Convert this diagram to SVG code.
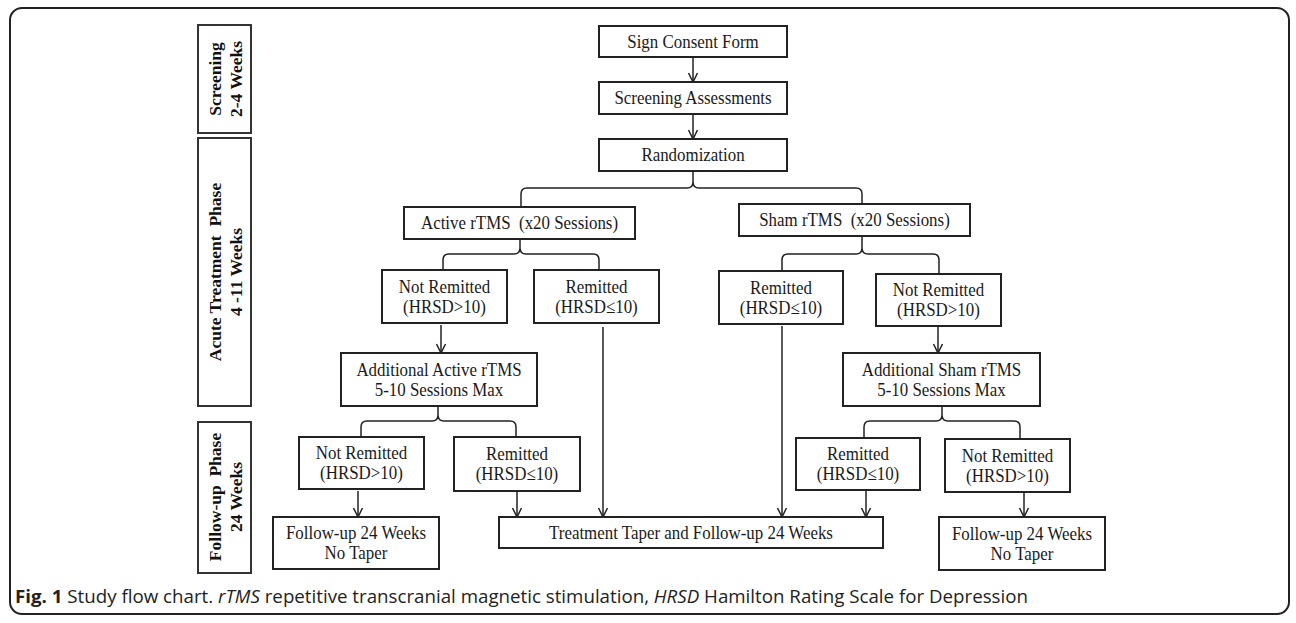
<svg xmlns="http://www.w3.org/2000/svg" width="1296" height="623" viewBox="0 0 1296 623">
<style>
.frame{fill:#fff;stroke:#222;stroke-width:2}
.box{fill:#fff;stroke:#222;stroke-width:2}
.pbox{fill:#fff;stroke:#333;stroke-width:2}
.con{fill:none;stroke:#222;stroke-width:1.5}
.t{font-family:"Liberation Serif","Times New Roman",serif;font-size:19px;fill:#1a1a1a;text-anchor:middle;transform-box:fill-box;transform-origin:center;transform:scaleX(0.89)}
.p{font-family:"Liberation Serif","Times New Roman",serif;font-size:17.5px;font-weight:bold;fill:#111;text-anchor:middle}
.cap{font-family:"Open Sans","Noto Sans",sans-serif;font-size:17.5px;fill:#222}
</style>
<defs>
<marker id="arr" markerUnits="userSpaceOnUse" markerWidth="14" markerHeight="14" viewBox="-12 -7 14 14" refX="0" refY="0" orient="auto" overflow="visible">
<path d="M-9,-4.5 L0,0 L-9,4.5" fill="none" stroke="#222" stroke-width="1.5"/>
</marker>
</defs>
<rect class="frame" x="10" y="8" width="1279" height="606" rx="12" ry="12"/>

<g id="phase-screening"><rect class="pbox" x="198" y="25" width="53" height="108"/>
<text class="p" transform="translate(221,79) rotate(-90)">Screening</text>
<text class="p" transform="translate(242,79) rotate(-90)">2-4 Weeks</text></g>
<g id="phase-acute"><rect class="pbox" x="198" y="138" width="53" height="268"/>
<text class="p" transform="translate(221,272) rotate(-90)" xml:space="preserve">Acute Treatment  Phase</text>
<text class="p" transform="translate(242,272) rotate(-90)">4 -11 Weeks</text></g>
<g id="phase-followup"><rect class="pbox" x="198" y="422" width="53" height="151"/>
<text class="p" transform="translate(221,497) rotate(-90)" xml:space="preserve">Follow-up  Phase</text>
<text class="p" transform="translate(242,497) rotate(-90)">24 Weeks</text></g>

<g id="connectors">
<line class="con" x1="693" y1="57" x2="693" y2="82" marker-end="url(#arr)"/>
<line class="con" x1="693" y1="114" x2="693" y2="139" marker-end="url(#arr)"/>
<path class="con" d="M521,207 L521,194 Q521,188 527,188 L687,188 Q693,188 693,182 L693,171 M862,204 L862,194 Q862,188 856,188 L699,188 Q693,188 693,182"/>
<path class="con" d="M443,270 L443,260 Q443,254 449,254 L514,254 Q520,254 520,248 L520,239 M599,270 L599,260 Q599,254 593,254 L526,254 Q520,254 520,248"/>
<path class="con" d="M782,271 L782,260 Q782,254 788,254 L856,254 Q862,254 862,248 L862,236 M939,274 L939,260 Q939,254 933,254 L868,254 Q862,254 862,248"/>
<line class="con" x1="441" y1="325" x2="441" y2="353" marker-end="url(#arr)"/>
<line class="con" x1="938" y1="327" x2="938" y2="353" marker-end="url(#arr)"/>
<path class="con" d="M361,437 L361,427 Q361,421 367,421 L432,421 Q438,421 438,415 L438,406 M516,437 L516,427 Q516,421 510,421 L444,421 Q438,421 438,415"/>
<path class="con" d="M864,438 L864,427 Q864,421 870,421 L936,421 Q942,421 942,415 L942,406 M1020,439 L1020,427 Q1020,421 1014,421 L948,421 Q942,421 942,415"/>
<line class="con" x1="603" y1="327" x2="603" y2="517" marker-end="url(#arr)"/>
<line class="con" x1="782" y1="326" x2="782" y2="517" marker-end="url(#arr)"/>
<line class="con" x1="358" y1="491" x2="358" y2="517" marker-end="url(#arr)"/>
<line class="con" x1="517" y1="492" x2="517" y2="517" marker-end="url(#arr)"/>
<line class="con" x1="866" y1="491" x2="866" y2="517" marker-end="url(#arr)"/>
<line class="con" x1="1024" y1="493" x2="1024" y2="517" marker-end="url(#arr)"/>
</g>

<g id="sign-consent"><rect class="box" x="599" y="26" width="188" height="31"/><text class="t" x="693" y="48">Sign Consent Form</text></g>
<g id="screening-assessments"><rect class="box" x="599" y="82" width="188" height="32"/><text class="t" x="693" y="104.5">Screening Assessments</text></g>
<g id="randomization"><rect class="box" x="599" y="139" width="188" height="32"/><text class="t" x="693" y="161.5">Randomization</text></g>
<g id="active-rtms"><rect class="box" x="404" y="207" width="231" height="32"/><text class="t" x="519.5" y="229.5" xml:space="preserve">Active rTMS  (x20 Sessions)</text></g>
<g id="sham-rtms"><rect class="box" x="739" y="204" width="231" height="32"/><text class="t" x="854.5" y="226.5" xml:space="preserve">Sham rTMS  (x20 Sessions)</text></g>
<g id="active-not-remitted"><rect class="box" x="382" y="270" width="125" height="53"/><text class="t"><tspan x="444.5" y="293">Not Remitted</tspan><tspan x="444.5" y="313">(HRSD&gt;10)</tspan></text></g>
<g id="active-remitted"><rect class="box" x="534" y="270" width="125" height="53"/><text class="t"><tspan x="596.5" y="293">Remitted</tspan><tspan x="596.5" y="313">(HRSD≤10)</tspan></text></g>
<g id="sham-remitted"><rect class="box" x="719" y="271" width="124" height="53"/><text class="t"><tspan x="781" y="294">Remitted</tspan><tspan x="781" y="314">(HRSD≤10)</tspan></text></g>
<g id="sham-not-remitted"><rect class="box" x="876" y="274" width="125" height="52"/><text class="t"><tspan x="938.5" y="296.5">Not Remitted</tspan><tspan x="938.5" y="316.5">(HRSD&gt;10)</tspan></text></g>
<g id="additional-active"><rect class="box" x="341" y="353" width="196" height="53"/><text class="t"><tspan x="439" y="376">Additional Active rTMS</tspan><tspan x="439" y="396">5-10 Sessions Max</tspan></text></g>
<g id="additional-sham"><rect class="box" x="843" y="353" width="197" height="53"/><text class="t"><tspan x="941.5" y="376">Additional Sham rTMS</tspan><tspan x="941.5" y="396">5-10 Sessions Max</tspan></text></g>
<g id="fu-active-not-remitted"><rect class="box" x="299" y="437" width="125" height="52"/><text class="t"><tspan x="361.5" y="459.5">Not Remitted</tspan><tspan x="361.5" y="479.5">(HRSD&gt;10)</tspan></text></g>
<g id="fu-active-remitted"><rect class="box" x="454" y="437" width="126" height="54"/><text class="t"><tspan x="517" y="460.5">Remitted</tspan><tspan x="517" y="480.5">(HRSD≤10)</tspan></text></g>
<g id="fu-sham-remitted"><rect class="box" x="796" y="438" width="124" height="52"/><text class="t"><tspan x="858" y="460.5">Remitted</tspan><tspan x="858" y="480.5">(HRSD≤10)</tspan></text></g>
<g id="fu-sham-not-remitted"><rect class="box" x="945" y="439" width="125" height="53"/><text class="t"><tspan x="1007.5" y="462">Not Remitted</tspan><tspan x="1007.5" y="482">(HRSD&gt;10)</tspan></text></g>
<g id="followup-no-taper-left"><rect class="box" x="273" y="517" width="166" height="52"/><text class="t"><tspan x="356" y="539.5">Follow-up 24 Weeks</tspan><tspan x="356" y="559.5">No Taper</tspan></text></g>
<g id="treatment-taper"><rect class="box" x="499" y="517" width="384" height="31"/><text class="t" x="691" y="539">Treatment Taper and Follow-up 24 Weeks</text></g>
<g id="followup-no-taper-right"><rect class="box" x="939" y="517" width="166" height="53"/><text class="t"><tspan x="1022" y="540">Follow-up 24 Weeks</tspan><tspan x="1022" y="560">No Taper</tspan></text></g>

<text class="cap" x="15" y="603" textLength="1013" lengthAdjust="spacingAndGlyphs"><tspan font-weight="bold">Fig. 1</tspan> Study flow chart. <tspan font-style="italic">rTMS</tspan> repetitive transcranial magnetic stimulation, <tspan font-style="italic">HRSD</tspan> Hamilton Rating Scale for Depression</text>
</svg>
